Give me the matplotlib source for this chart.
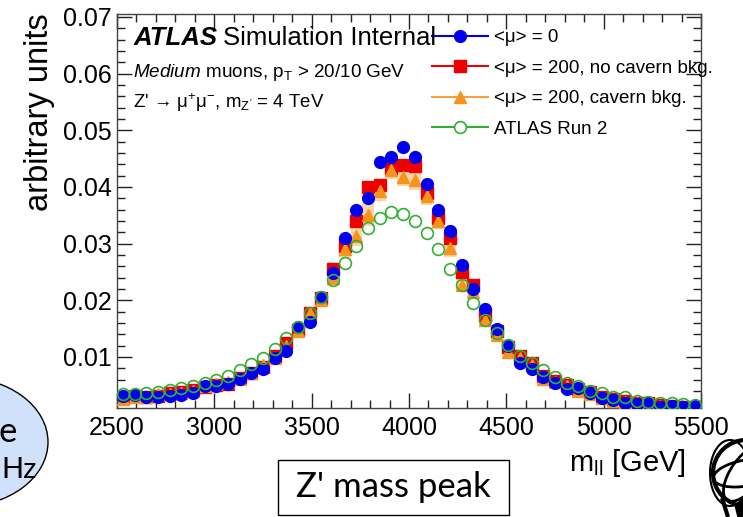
import numpy as np
import matplotlib
matplotlib.use("Agg")
import matplotlib.pyplot as plt
from matplotlib.lines import Line2D
from matplotlib.patches import Ellipse, Rectangle, Circle, Arc, Polygon
from matplotlib.ticker import MultipleLocator

plt.rcParams['font.family'] = ['Liberation Sans', 'DejaVu Sans']
plt.rcParams['mathtext.fontset'] = 'custom'
plt.rcParams['mathtext.rm'] = 'Liberation Sans'
plt.rcParams['mathtext.it'] = 'Liberation Sans:italic'
plt.rcParams['mathtext.bf'] = 'Liberation Sans:bold'

# ---------------- data ----------------
bin_width = 60
mass_centers = np.arange(2530, 5500, bin_width)  # 50 bins, 2500-5500 GeV

mu0 = [0.0032, 0.0033, 0.0030, 0.0030, 0.0031, 0.0033, 0.0037, 0.0048, 0.0049, 0.0052,
       0.0061, 0.0071, 0.0078, 0.0099, 0.0111, 0.0152, 0.0161, 0.0205, 0.0249, 0.0309,
       0.0359, 0.0380, 0.0444, 0.0452, 0.0471, 0.0452, 0.0406, 0.0359, 0.0322, 0.0262,
       0.0220, 0.0184, 0.0149, 0.0119, 0.0089, 0.0078, 0.0065, 0.0054, 0.0043, 0.0045,
       0.0036, 0.0027, 0.0024, 0.0018, 0.0017, 0.0018, 0.0012, 0.0013, 0.0012, 0.0013]

mu200_nocav = [0.0028, 0.0031, 0.0029, 0.0032, 0.0036, 0.0038, 0.0041, 0.0047, 0.0051, 0.0052,
               0.0063, 0.0072, 0.0083, 0.0101, 0.0124, 0.0148, 0.0177, 0.0204, 0.0256, 0.0296,
               0.0339, 0.0400, 0.0403, 0.0434, 0.0439, 0.0436, 0.0390, 0.0345, 0.0309, 0.0250,
               0.0227, 0.0174, 0.0145, 0.0118, 0.0101, 0.0089, 0.0066, 0.0058, 0.0051, 0.0044,
               0.0038, 0.0030, 0.0026, 0.0022, 0.0019, 0.0019, 0.0016, 0.0013, 0.0012, 0.0012]

mu200_cav = [0.0026, 0.0030, 0.0030, 0.0034, 0.0035, 0.0036, 0.0040, 0.0049, 0.0052, 0.0055,
             0.0062, 0.0071, 0.0085, 0.0099, 0.0120, 0.0145, 0.0178, 0.0200, 0.0239, 0.0290,
             0.0313, 0.0350, 0.0393, 0.0430, 0.0418, 0.0412, 0.0384, 0.0340, 0.0292, 0.0227,
             0.0215, 0.0165, 0.0139, 0.0109, 0.0098, 0.0086, 0.0062, 0.0056, 0.0048, 0.0040,
             0.0035, 0.0027, 0.0023, 0.0020, 0.0018, 0.0018, 0.0014, 0.0014, 0.0011, 0.0011]

mu200_cav_err = [0.0003, 0.0003, 0.0003, 0.0003, 0.0003, 0.0003, 0.0003, 0.0004, 0.0004, 0.0004,
                 0.0004, 0.0005, 0.0005, 0.0006, 0.0006, 0.0007, 0.0008, 0.0009, 0.0012, 0.0015,
                 0.0018, 0.0019, 0.0017, 0.0016, 0.0016, 0.0018, 0.0016, 0.0015, 0.0015, 0.0013,
                 0.0011, 0.0009, 0.0008, 0.0007, 0.0006, 0.0005, 0.0005, 0.0004, 0.0004, 0.0004,
                 0.0003, 0.0003, 0.0003, 0.0003, 0.0003, 0.0003, 0.0003, 0.0003, 0.0003, 0.0003]

run2 = [0.0035, 0.0035, 0.0036, 0.0039, 0.0042, 0.0045, 0.0049, 0.0054, 0.0059, 0.0066,
        0.0077, 0.0087, 0.0098, 0.0114, 0.0133, 0.0152, 0.0177, 0.0206, 0.0235, 0.0266,
        0.0296, 0.0327, 0.0345, 0.0356, 0.0353, 0.0340, 0.0318, 0.0290, 0.0255, 0.0227,
        0.0196, 0.0166, 0.0143, 0.0121, 0.0102, 0.0089, 0.0077, 0.0065, 0.0054, 0.0048,
        0.0040, 0.0036, 0.0030, 0.0029, 0.0023, 0.0021, 0.0019, 0.0018, 0.0017, 0.0015]

labels = ["<\u03bc> = 0", "<\u03bc> = 200, no cavern bkg.",
          "<\u03bc> = 200, cavern bkg.", "ATLAS Run 2"]

# ---------------- style ----------------
c_blue = '#0000ee'
c_red = '#ee0000'
c_orange = '#f7941d'
c_orange_line = '#f5a040'
c_band = '#fbd7a8'
c_green = '#33b033'

W, H = 743, 517
fig = plt.figure(figsize=(W / 100, H / 100), dpi=100)
ax = fig.add_axes([117 / W, 1 - 408 / H, (701 - 117) / W, (408 - 14) / H])

mu200_cav_arr = np.array(mu200_cav)
err_arr = np.array(mu200_cav_err)
ax.bar(mass_centers, 2 * err_arr, bottom=mu200_cav_arr - err_arr, width=bin_width,
       color=c_band, edgecolor='none', zorder=1)
ax.plot(mass_centers, mu200_nocav, ls='none', marker='s', ms=8.3, color=c_red, zorder=2)
ax.plot(mass_centers, mu200_cav, ls='none', marker='^', ms=9.3, color=c_orange, zorder=3)
ax.plot(mass_centers, mu0, ls='none', marker='o', ms=8.5, color=c_blue, zorder=4)
ax.plot(mass_centers, run2, ls='none', marker='o', ms=8.5, mfc='none', mec=c_green,
        mew=1.2, zorder=5)

ax.set_xlim(2500, 5500)
ax.set_ylim(0.001, 0.0705)
ax.xaxis.set_major_locator(MultipleLocator(500))
ax.xaxis.set_minor_locator(MultipleLocator(100))
ax.yaxis.set_major_locator(MultipleLocator(0.01))
ax.yaxis.set_minor_locator(MultipleLocator(0.002))
ax.tick_params(which='both', direction='in', top=True, right=True, labelsize=18,
               width=1, color='#222222')
ax.tick_params(which='major', length=11)
ax.tick_params(which='minor', length=6)
ax.tick_params(axis='x', pad=6)
ax.tick_params(axis='y', pad=4)
ax.set_yticks([0.01, 0.02, 0.03, 0.04, 0.05, 0.06, 0.07])
ax.set_yticklabels(['0.01', '0.02', '0.03', '0.04', '0.05', '0.06', '0.07'])
for s in ax.spines.values():
    s.set_linewidth(1.0)
    s.set_color('#444444')

# legend
handles = [
    Line2D([], [], color=c_blue, lw=1.5, marker='o', ms=8.5),
    Line2D([], [], color=c_red, lw=1.5, marker='s', ms=8.3),
    Line2D([], [], color=c_orange_line, lw=1.5, marker='^', ms=9.3, mfc=c_orange, mec=c_orange),
    Line2D([], [], color=c_green, lw=1.5, marker='o', ms=8.5, mfc='white', mec=c_green, mew=1.2),
]
leg = ax.legend(handles, labels, loc='upper left', bbox_to_anchor=(432 / W, 1 - 29 / H),
                bbox_transform=fig.transFigure, frameon=False, fontsize=13.5,
                borderpad=0, borderaxespad=0, handlelength=3.0, handletextpad=0.3,
                labelspacing=0.72)
leg.set_zorder(10)

# ATLAS labels
t1 = fig.text(134 / W, 1 - 38 / H, 'ATLAS', fontsize=18.5, fontweight='bold',
              fontstyle='italic', va='center', ha='left')
fig.canvas.draw()
bb = t1.get_window_extent()
fig.text((bb.x1 + 5) / W, 1 - 38 / H, 'Simulation Internal', fontsize=18.5,
         va='center', ha='left')
fig.text(133 / W, 1 - 73 / H, r'$\it{Medium}$ muons, p$_{\mathrm{T}}$ > 20/10 GeV',
         fontsize=13.6, va='center', ha='left')
fig.text(133 / W, 1 - 103 / H,
         "Z' \u2192 \u03bc$^{+}$\u03bc$^{-}$, m$_{\\mathrm{Z'}}$ = 4 TeV",
         fontsize=13.4, va='center', ha='left')

# axis titles
fig.text(40 / W, 1 - 13 / H, 'arbitrary units', rotation=90, fontsize=23.5,
         ha='center', va='top')
fig.text(686 / W, 1 - 463 / H, r'm$_{\mathrm{ll}}$ [GeV]', fontsize=21,
         ha='right', va='center')

# slide decorations in pixel overlay
ov = fig.add_axes([0, 0, 1, 1], zorder=-1)
ov.set_xlim(0, W)
ov.set_ylim(H, 0)
ov.axis('off')
ov.add_patch(Ellipse((-40, 442), 176, 130, facecolor='#cfe2fa', edgecolor='black', lw=1.0))
ov.text(17, 432, 'e', fontsize=25, ha='right', va='center', family='Lato')
ov.text(1, 470, 'Hz', fontsize=21, ha='left', va='center', family='Lato')
ov.add_patch(Rectangle((278, 460), 231, 55, facecolor='white', edgecolor='black', lw=1.0))
ov.text(393, 487, "Z' mass peak", fontsize=25, ha='center', va='center', family='Lato')

# ATLAS globe logo (approximate)
ov.add_patch(Circle((746, 473), 33, facecolor='none', edgecolor='black', lw=3))
ov.add_patch(Ellipse((746, 473), 30, 66, angle=35, facecolor='none', edgecolor='black', lw=2))
ov.add_patch(Arc((746, 473), 66, 26, angle=-10, theta1=0, theta2=360, color='black', lw=2))
ov.add_patch(Arc((730, 473), 40, 66, angle=0, theta1=60, theta2=300, color='black', lw=1.5))
ov.plot([722, 728], [498, 517], color='black', lw=3, solid_capstyle='butt')
ov.add_patch(Polygon([[735, 505], [743, 500], [743, 517], [738, 517]], closed=True,
                     facecolor='black', edgecolor='black'))

fig.savefig('out.png', dpi=100)
